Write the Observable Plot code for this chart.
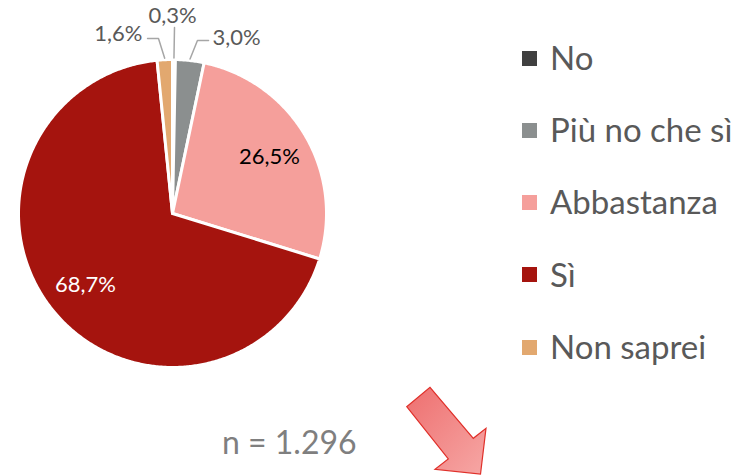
<!DOCTYPE html>
<html><head><meta charset="utf-8">
<script src="https://cdn.jsdelivr.net/npm/d3@7"></script>
<script src="https://cdn.jsdelivr.net/npm/@observablehq/plot@0.6"></script>
<style>
body{margin:0;background:#fff;}
#wrap{position:relative;width:744px;height:476px;font-family:Lato,"Open Sans",sans-serif;overflow:hidden;}
#wrap svg{position:absolute;left:0;top:0;}
.leg{position:absolute;white-space:nowrap;}
</style></head><body><div id="wrap"></div>
<script>
// ---- data ----
const categories = ["No", "Più no che sì", "Abbastanza", "Sì", "Non saprei"];
const values = [0.3, 3.0, 26.5, 68.7, 1.6];
const valueLabels = ["0,3%", "3,0%", "26,5%", "68,7%", "1,6%"];
const colors = ["#404040", "#8b8f8f", "#f59f9b", "#a5140e", "#e2a86f"];
const sampleLabel = "n = 1.296";

// ---- geometry in unit-circle coordinates ----
const total = d3.sum(values);
let acc = 0;
const slices = categories.map((c, i) => {
  const a0 = acc / total * 2 * Math.PI;
  acc += values[i];
  const a1 = acc / total * 2 * Math.PI;
  return {cat: c, a0, a1, mid: (a0 + a1) / 2, label: valueLabels[i]};
});
const pts = [];
for (const s of slices) {
  pts.push({cat: s.cat, x: 0, y: 0});
  const n = Math.max(2, Math.ceil((s.a1 - s.a0) / (Math.PI / 360)));
  for (let k = 0; k <= n; k++) {
    const t = s.a0 + (s.a1 - s.a0) * k / n;
    pts.push({cat: s.cat, x: Math.sin(t), y: Math.cos(t)});
  }
  pts.push({cat: s.cat, x: 0, y: 0});
}

// label layout (inside labels at a radius fraction, outside labels with leaders)
const inside = {"Abbastanza": "#000000", "Sì": "#ffffff"};
const outsideLayout = {
  "No": {via: [[0.013, 1.208]], text: [0.0, 1.286], anchor: "middle"},
  "Più no che sì": {via: [[0.162, 1.123], [0.234, 1.123]], text: [0.26, 1.143], anchor: "start"},
  "Non saprei": {via: [[-0.091, 1.136], [-0.162, 1.136]], text: [-0.195, 1.169], anchor: "end"}
};
const textData = [], leaderData = [];
for (const s of slices) {
  if (inside[s.cat]) {
    textData.push({x: 0.73 * Math.sin(s.mid), y: 0.73 * Math.cos(s.mid), t: s.label, c: inside[s.cat], a: "middle"});
  } else {
    const L = outsideLayout[s.cat];
    leaderData.push({cat: s.cat, x: 1.01 * Math.sin(s.mid), y: 1.01 * Math.cos(s.mid)});
    for (const p of L.via) leaderData.push({cat: s.cat, x: p[0], y: p[1]});
    textData.push({x: L.text[0], y: L.text[1], t: s.label, c: "#595959", a: L.anchor});
  }
}

const chart = Plot.plot({
  width: 744, height: 476, margin: 0,
  style: {background: "transparent", fontFamily: "Lato, 'Open Sans', sans-serif"},
  x: {domain: [-1, 1], range: [18, 326], axis: null},
  y: {domain: [-1, 1], range: [367, 59], axis: null},
  color: {domain: categories, range: colors},
  marks: [
    Plot.line(pts, {x: "x", y: "y", z: "cat", fill: "cat", stroke: "white", strokeWidth: 3, strokeLinejoin: "round", curve: "linear"}),
    Plot.line(leaderData, {x: "x", y: "y", z: "cat", stroke: "#a6a6a6", strokeWidth: 1.5, curve: "linear"}),
    Plot.text(textData.filter(d => d.a === "middle"), {x: "x", y: "y", text: "t", fill: d => d.c, fontSize: 22, textAnchor: "middle"}),
    Plot.text(textData.filter(d => d.a === "start"), {x: "x", y: "y", text: "t", fill: d => d.c, fontSize: 22, textAnchor: "start"}),
    Plot.text(textData.filter(d => d.a === "end"), {x: "x", y: "y", text: "t", fill: d => d.c, fontSize: 22, textAnchor: "end"})
  ]
});
const wrap = document.getElementById("wrap");
wrap.appendChild(chart);

// legend
categories.forEach((c, i) => {
  const cy = 58 + i * 72.3;
  const sq = document.createElement("div");
  sq.className = "leg";
  Object.assign(sq.style, {left: "522px", top: (cy - 7.5) + "px", width: "15px", height: "15px", background: colors[i]});
  wrap.appendChild(sq);
  const tx = document.createElement("div");
  tx.className = "leg";
  Object.assign(tx.style, {left: "550px", top: (cy - 17.4) + "px", fontSize: "33px", lineHeight: "1", color: "#595959"});
  tx.textContent = c;
  wrap.appendChild(tx);
});

// sample size caption
const nl = document.createElement("div");
nl.className = "leg";
Object.assign(nl.style, {left: "222px", top: "426px", fontSize: "32px", lineHeight: "1", color: "#7f7f7f"});
nl.textContent = sampleLabel;
wrap.appendChild(nl);

// decorative arrow
const deco = d3.select(wrap).append("svg").attr("width", 744).attr("height", 476).style("pointer-events", "none");
const g = deco.append("defs").append("linearGradient").attr("id", "ag").attr("x1", "0").attr("y1", "0").attr("x2", "1").attr("y2", "1");
g.append("stop").attr("offset", "0").attr("stop-color", "#ee6f6f");
g.append("stop").attr("offset", "1").attr("stop-color", "#f6a7a5");
deco.append("polygon")
  .attr("points", "406.7,406.7 430,387.3 473.3,438.3 486,428.3 480.5,474 435,469.3 448.3,459")
  .attr("fill", "url(#ag)").attr("stroke", "#e0302a").attr("stroke-width", 1.2).attr("stroke-linejoin", "miter");
</script></body></html>
